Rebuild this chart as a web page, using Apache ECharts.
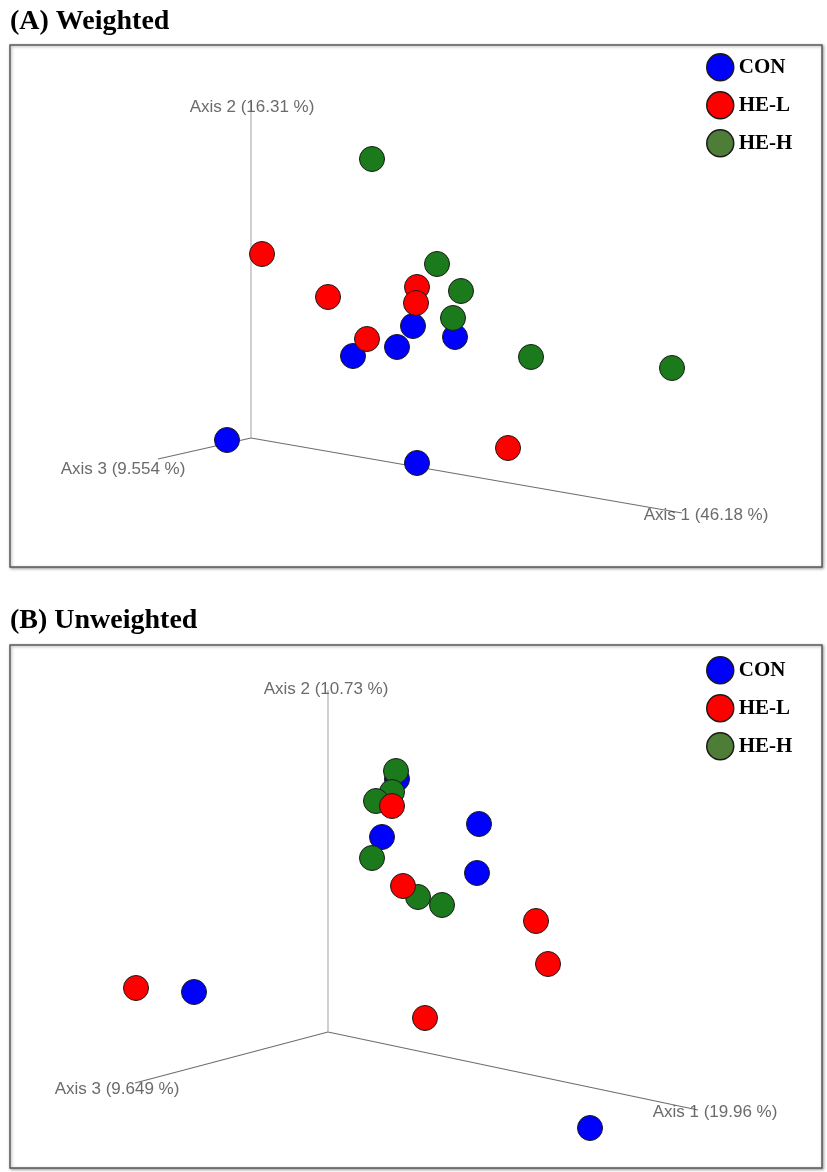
<!DOCTYPE html>
<html>
<head>
<meta charset="utf-8">
<script src="https://cdn.jsdelivr.net/npm/echarts@6/dist/echarts.min.js"></script>
<style>
  html, body { margin: 0; padding: 0; background: #fff; }
  #chart { width: 827px; height: 1172px; }
</style>
</head>
<body>
<div id="chart"></div>
<script>
// groups
const groups = ['CON', 'HE-L', 'HE-H'];

// (A) Weighted - projected PCoA coordinates (origin of the 3D axes = 0,0)
const weightedCON = [[-24, -2], [166, -25], [102, 82], [146, 91], [162, 112], [204, 101]];
const weightedHEL = [[11, 184], [77, 141], [166, 151], [165, 135], [116, 99], [257, -10]];
const weightedHEH = [[121, 279], [186, 174], [210, 147], [202, 120], [280, 81], [421, 70]];
// axis ends and their labels
const weightedAxis1 = [[0, 0], [431, -75]];
const weightedAxis2 = [[0, 0], [0, 336]];
const weightedAxis3 = [[0, 0], [-93, -21]];
const weightedAxisLabels = [[455, -77, 'Axis 1 (46.18 %)'], [1, 331, 'Axis 2 (16.31 %)'], [-128, -31, 'Axis 3 (9.554 %)']];

// (B) Unweighted
const unweightedCON = [[69, 253], [151, 208], [54, 195], [149, 159], [-134, 40], [262, -96]];
const unweightedHEL = [[64, 226], [75, 146], [208, 111], [220, 68], [-192, 44], [97, 14]];
const unweightedHEH = [[68, 261], [64, 240], [48, 231], [44, 174], [90, 135], [114, 127]];
const unweightedAxis1 = [[0, 0], [370, -78]];
const unweightedAxis2 = [[0, 0], [0, 342]];
const unweightedAxis3 = [[0, 0], [-193, -51]];
const unweightedAxisLabels = [[387, -80, 'Axis 1 (19.96 %)'], [-2, 343, 'Axis 2 (10.73 %)'], [-211, -57, 'Axis 3 (9.649 %)']];

const colors = { 'CON': '#0000ff', 'HE-L': '#ff0000', 'HE-H': '#1b7a1b' };
const legendColors = { 'CON': '#0000ff', 'HE-L': '#ff0000', 'HE-H': '#4e7d38' };

const chart = echarts.init(document.getElementById('chart'), null, { renderer: 'canvas' });

function axisLine(data, idx, color) {
    return {
        type: 'line', xAxisIndex: idx, yAxisIndex: idx, data,
        symbol: 'none', silent: true, z: 1,
        lineStyle: { color, width: 1.2 }
    };
}
function axisText(data, idx) {
    return {
        type: 'scatter', xAxisIndex: idx, yAxisIndex: idx, data,
        symbolSize: 0, silent: true, z: 2,
        label: {
            show: true, position: 'inside',
            formatter: p => p.value[2],
            fontFamily: 'Liberation Sans', fontSize: 17, color: '#454545'
        }
    };
}
function points(name, data, idx, z) {
    return {
        name, type: 'scatter', xAxisIndex: idx, yAxisIndex: idx, data,
        symbolSize: 25, z,
        itemStyle: { color: colors[name], borderColor: '#1a1a1a', borderWidth: 1, opacity: 1 }
    };
}
function legend(top) {
    return {
        orient: 'vertical', left: 701, top,
        itemWidth: 27, itemHeight: 27, itemGap: 9.5,
        icon: 'circle',
        data: groups.map(g => ({ name: g, itemStyle: { color: legendColors[g], borderColor: '#1a1a1a', borderWidth: 1.5 } })),
        textStyle: { fontFamily: 'Liberation Serif', fontWeight: 'bold', fontSize: 21, color: '#000' }
    };
}

const gridStyle = { show: true, borderColor: '#5a5a5a', borderWidth: 1.5, backgroundColor: '#fff',
    shadowColor: 'rgba(0,0,0,0.35)', shadowBlur: 3, shadowOffsetX: 1, shadowOffsetY: 1 };

const option = {
    animation: false,
    backgroundColor: '#fff',
    title: [
        { text: '(A) Weighted', left: 5, top: 3,
          textStyle: { fontFamily: 'Liberation Serif', fontWeight: 'bold', fontSize: 28, color: '#000' } },
        { text: '(B) Unweighted', left: 5, top: 602,
          textStyle: { fontFamily: 'Liberation Serif', fontWeight: 'bold', fontSize: 28, color: '#000' } }
    ],
    legend: [legend(48), legend(651)],
    grid: [
        Object.assign({ left: 10, top: 45, width: 812, height: 522 }, gridStyle),
        Object.assign({ left: 10, top: 645, width: 812, height: 523 }, gridStyle)
    ],
    xAxis: [
        { type: 'value', gridIndex: 0, min: -241, max: 571, show: false },
        { type: 'value', gridIndex: 1, min: -318, max: 494, show: false }
    ],
    yAxis: [
        { type: 'value', gridIndex: 0, min: -129, max: 393, show: false },
        { type: 'value', gridIndex: 1, min: -136, max: 387, show: false }
    ],
    series: [
        axisLine(weightedAxis1, 0, '#6e6e6e'),
        axisLine(weightedAxis2, 0, '#b0b0b0'),
        axisLine(weightedAxis3, 0, '#6e6e6e'),
        axisText(weightedAxisLabels, 0),
        points('CON', weightedCON, 0, 3),
        points('HE-H', weightedHEH, 0, 4),
        points('HE-L', weightedHEL, 0, 5),

        axisLine(unweightedAxis1, 1, '#6e6e6e'),
        axisLine(unweightedAxis2, 1, '#b0b0b0'),
        axisLine(unweightedAxis3, 1, '#6e6e6e'),
        axisText(unweightedAxisLabels, 1),
        points('CON', unweightedCON, 1, 3),
        points('HE-H', unweightedHEH, 1, 4),
        points('HE-L', unweightedHEL, 1, 5)
    ]
};
chart.setOption(option);
</script>
</body>
</html>
